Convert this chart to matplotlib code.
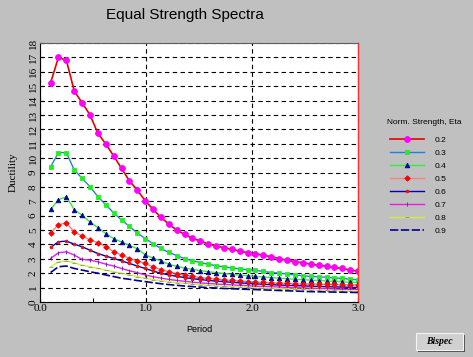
import numpy as np
import matplotlib
matplotlib.use("Agg")
import matplotlib.pyplot as plt
from matplotlib.patches import Rectangle

# periodos (s)
period = [0.100, 0.174, 0.249, 0.323, 0.397, 0.472, 0.546, 0.621, 0.695, 0.769,
          0.844, 0.918, 0.992, 1.067, 1.141, 1.215, 1.290, 1.364, 1.438, 1.513,
          1.587, 1.662, 1.736, 1.810, 1.885, 1.959, 2.033, 2.108, 2.182, 2.256,
          2.331, 2.405, 2.479, 2.554, 2.628, 2.703, 2.777, 2.851, 2.926, 3.000]

eta_labels = ["0.2", "0.3", "0.4", "0.5", "0.6", "0.7", "0.8", "0.9"]

duct_02 = [15.24, 17.0, 16.8, 14.66, 13.85, 13.0, 11.72, 10.98, 10.15, 9.29,
           8.41, 7.78, 7.04, 6.44, 5.88, 5.42, 5.0, 4.70, 4.42, 4.24,
           4.03, 3.89, 3.77, 3.66, 3.54, 3.43, 3.35, 3.25, 3.14, 3.02,
           2.89, 2.81, 2.72, 2.63, 2.55, 2.49, 2.40, 2.33, 2.22, 2.14]
duct_03 = [9.40, 10.38, 10.38, 9.17, 8.6, 8.01, 7.32, 6.75, 6.2, 5.7,
           5.25, 4.8, 4.41, 4.05, 3.72, 3.45, 3.22, 3.02, 2.87, 2.74,
           2.62, 2.52, 2.44, 2.37, 2.30, 2.24, 2.20, 2.12, 2.05, 2.0,
           1.95, 1.88, 1.82, 1.78, 1.75, 1.72, 1.67, 1.64, 1.58, 1.54]
duct_04 = [6.44, 7.12, 7.3, 6.42, 6.03, 5.56, 5.17, 4.75, 4.4, 4.17,
           3.94, 3.7, 3.28, 3.05, 2.85, 2.62, 2.48, 2.36, 2.27, 2.18,
           2.11, 2.04, 1.98, 1.92, 1.87, 1.82, 1.78, 1.74, 1.70, 1.66,
           1.62, 1.58, 1.55, 1.52, 1.49, 1.46, 1.43, 1.40, 1.37, 1.34]
duct_05 = [4.81, 5.37, 5.49, 4.88, 4.58, 4.31, 4.12, 3.84, 3.5, 3.26,
           3.02, 2.86, 2.68, 2.44, 2.25, 2.10, 1.98, 1.87, 1.78, 1.70,
           1.64, 1.59, 1.54, 1.50, 1.46, 1.42, 1.39, 1.36, 1.34, 1.32,
           1.30, 1.28, 1.27, 1.25, 1.24, 1.23, 1.22, 1.21, 1.20, 1.19]
duct_06 = [3.79, 4.19, 4.23, 4.02, 3.84, 3.6, 3.37, 3.19, 3.03, 2.86,
           2.68, 2.5, 2.33, 2.15, 2.0, 1.88, 1.78, 1.70, 1.62, 1.56,
           1.50, 1.45, 1.41, 1.37, 1.33, 1.29, 1.26, 1.23, 1.20, 1.18,
           1.16, 1.14, 1.12, 1.10, 1.08, 1.06, 1.05, 1.04, 1.02, 1.01]
duct_07 = [3.03, 3.42, 3.49, 3.26, 2.96, 2.91, 2.79, 2.63, 2.5, 2.33,
           2.17, 2.04, 1.88, 1.76, 1.66, 1.57, 1.50, 1.44, 1.38, 1.33,
           1.29, 1.25, 1.22, 1.19, 1.16, 1.13, 1.10, 1.08, 1.06, 1.04,
           1.02, 1.00, 0.98, 0.96, 0.94, 0.92, 0.90, 0.89, 0.88, 0.87]
duct_08 = [2.45, 2.79, 2.86, 2.72, 2.56, 2.45, 2.33, 2.22, 2.1, 2.0,
           1.88, 1.77, 1.65, 1.56, 1.48, 1.41, 1.35, 1.30, 1.25, 1.21,
           1.17, 1.13, 1.10, 1.07, 1.04, 1.01, 0.99, 0.97, 0.95, 0.93,
           0.91, 0.89, 0.87, 0.85, 0.83, 0.81, 0.80, 0.78, 0.77, 0.76]
duct_09 = [2.05, 2.45, 2.5, 2.33, 2.22, 2.1, 2.0, 1.88, 1.77, 1.65,
           1.58, 1.49, 1.42, 1.34, 1.27, 1.21, 1.16, 1.11, 1.07, 1.03,
           1.00, 0.97, 0.94, 0.92, 0.90, 0.88, 0.86, 0.84, 0.82, 0.80,
           0.78, 0.76, 0.74, 0.72, 0.71, 0.70, 0.69, 0.68, 0.67, 0.66]

series = [duct_02, duct_03, duct_04, duct_05, duct_06, duct_07, duct_08, duct_09]

# estilo de cada curva: color linea, marcador, color marcador, tamaño, estilo, grosor
estilos = [
    ("#e80000", "o", "#ff00ff", 4.2, "-", 1.2),
    ("#2080e0", "s", "#22ee22", 3.0, "-", 1.0),
    ("#33ee33", "^", "#000099", 3.3, "-", 1.0),
    ("#ff7f7f", "D", "#ff0000", 2.8, "-", 1.0),
    ("#0000b0", "o", "#ee1111", 2.0, "-", 1.0),
    ("#e020e0", "|", "#6010c0", 3.5, "-", 1.0),
    ("#c8f040", "_", "#909070", 3.0, "-", 1.0),
    ("#000090", "", "#000090", 0, (0, (5, 1.5)), 1.2),
]

bg = "#c0c0c0"
serif = "Liberation Serif"
sans = "Liberation Sans"

fig = plt.figure(figsize=(4.73, 3.57), dpi=100, facecolor=bg)
W, H = 473.0, 357.0
ax = fig.add_axes([40 / W, 1 - 302 / H, 318 / W, 259 / H])
ax.set_facecolor("white")

handles = []
for vals, lab, (lc, mk, mc, ms, ls, lw) in zip(series, eta_labels, estilos):
    ln, = ax.plot(period, vals, color=lc, linestyle=ls, linewidth=lw,
                  marker=mk if mk else None, markersize=ms,
                  markerfacecolor=mc, markeredgecolor=mc,
                  markeredgewidth=0.6, label=lab)
    handles.append(ln)

ax.set_xlim(0, 3.0)
ax.set_ylim(0, 18)
ax.set_xticks([0, 1, 2, 3])
ax.set_xticks([0.5, 1.5, 2.5], minor=True)
ax.set_xticklabels(["0.0", "1.0", "2.0", "3.0"], fontfamily=serif, fontsize=8)
ax.set_yticks(np.arange(0, 19, 1))
ax.set_yticklabels([str(i) for i in range(19)], fontfamily=serif,
                   fontsize=8, rotation=90, va="center")
ax.tick_params(axis="both", which="both", direction="in", length=3,
               width=0.8, color="black")
ax.tick_params(axis="x", pad=1.5)
ax.tick_params(axis="y", pad=1.5)

ax.grid(True, which="major", color="black", linestyle=(0, (4, 3)),
        linewidth=0.8)
ax.set_axisbelow(True)

for s in ["left", "bottom"]:
    ax.spines[s].set_color("black")
    ax.spines[s].set_linewidth(0.8)
ax.spines["top"].set_color("#606060")
ax.spines["top"].set_linewidth(0.8)
ax.spines["right"].set_color("#ff3030")
ax.spines["right"].set_linewidth(1.0)

ax.set_ylabel("Ductility", fontfamily=serif, fontsize=8)
ax.yaxis.set_label_coords(-0.069, 0.5)
ax.set_xlabel("Period", fontfamily=sans, fontsize=6.5)
ax.xaxis.set_label_coords(0.5, -0.09)

fig.text(185 / W, 1 - 15 / H, "Equal Strength Spectra", fontfamily=sans,
         fontsize=11, ha="center", va="center")

# leyenda
fig.text(424 / W, 1 - 122 / H, "Norm. Strength, Eta", fontfamily=sans,
         fontsize=6, ha="center", va="center")
leg = fig.legend(handles=handles, labels=eta_labels, loc="upper left",
                 bbox_to_anchor=(386 / W, 1 - 132 / H), frameon=False,
                 numpoints=1, prop={"family": sans, "size": 6},
                 handlelength=4.1, handletextpad=1.2, labelspacing=0.62,
                 borderpad=0.0)

# boton "Bispec"
bx, by, bw, bh = 416 / W, 1 - 350 / H, 47 / W, 17 / H
fig.patches.append(Rectangle((bx + 1.5 / W, by - 1.5 / H), bw, bh,
                             transform=fig.transFigure, facecolor="#505050",
                             edgecolor="none"))
fig.patches.append(Rectangle((bx, by), bw, bh, transform=fig.transFigure,
                             facecolor="#d0d0d0", edgecolor="#f4f4f4",
                             linewidth=0.8))
fig.text(bx + bw / 2, by + bh / 2, "Bispec", fontfamily=serif, fontsize=7,
         fontweight="bold", fontstyle="italic", ha="center", va="center")

fig.savefig("out.png", dpi=100, facecolor=bg)
